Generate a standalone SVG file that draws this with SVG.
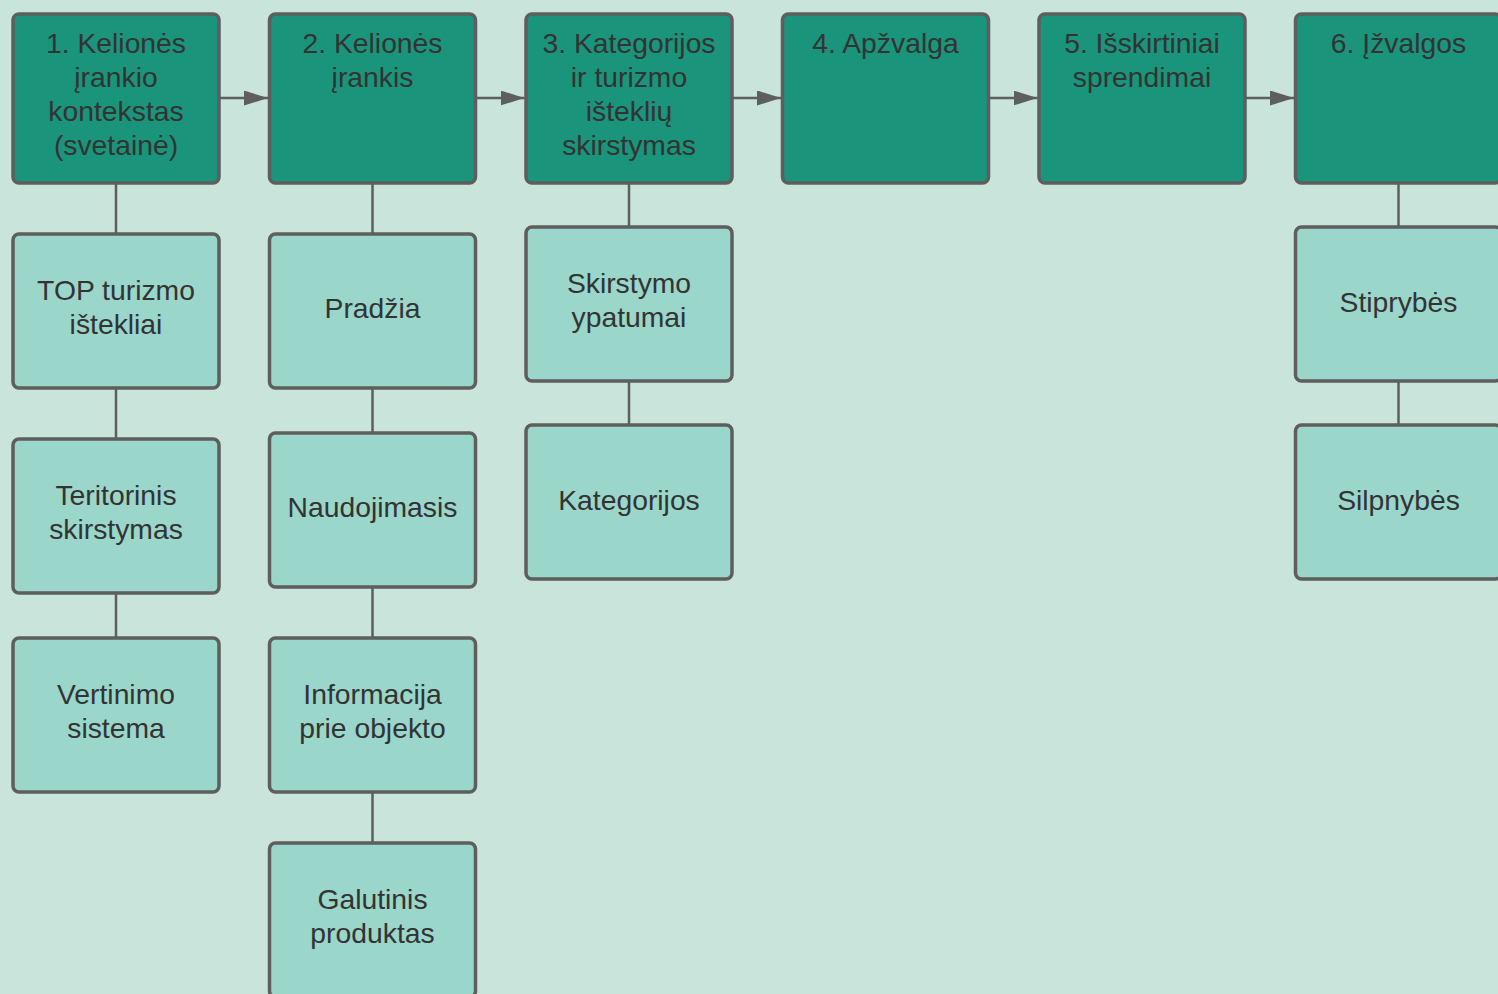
<svg xmlns="http://www.w3.org/2000/svg" width="1498" height="994" viewBox="0 0 1498 994">
<defs>
<style>
.main{fill:#1a947a;stroke:#5e5e5e;stroke-width:3.5}
.sub{fill:#9ad6ca;stroke:#5e5e5e;stroke-width:3.5}
.t{font-family:"Liberation Sans",Arial,sans-serif;font-size:28.3px;fill:#333333;text-anchor:middle}
.c{stroke:#5e5e5e;stroke-width:2.5;fill:none}
</style>
<marker id="ah" viewBox="0 0 24 15" refX="24" refY="7.5" markerWidth="24" markerHeight="15" markerUnits="userSpaceOnUse" orient="auto">
<path d="M0,0 L24,7.5 L0,15 Z" fill="#5e5e5e"/>
</marker>
</defs>
<rect x="0" y="0" width="1498" height="994" fill="#c9e4da"/>
<g id="connectors">
<line class="c" x1="219" y1="98" x2="268" y2="98" marker-end="url(#ah)"/>
<line class="c" x1="475.5" y1="98" x2="524.5" y2="98" marker-end="url(#ah)"/>
<line class="c" x1="732" y1="98" x2="781" y2="98" marker-end="url(#ah)"/>
<line class="c" x1="988.5" y1="98" x2="1037.5" y2="98" marker-end="url(#ah)"/>
<line class="c" x1="1245" y1="98" x2="1294" y2="98" marker-end="url(#ah)"/>
<line class="c" x1="116" y1="183" x2="116" y2="234"/>
<line class="c" x1="116" y1="388" x2="116" y2="439"/>
<line class="c" x1="116" y1="593" x2="116" y2="638"/>
<line class="c" x1="372.5" y1="183" x2="372.5" y2="234"/>
<line class="c" x1="372.5" y1="388" x2="372.5" y2="433"/>
<line class="c" x1="372.5" y1="587" x2="372.5" y2="638"/>
<line class="c" x1="372.5" y1="792" x2="372.5" y2="843"/>
<line class="c" x1="629" y1="183" x2="629" y2="227"/>
<line class="c" x1="629" y1="381" x2="629" y2="425"/>
<line class="c" x1="1398.5" y1="183" x2="1398.5" y2="227"/>
<line class="c" x1="1398.5" y1="381" x2="1398.5" y2="425"/>
</g>
<g id="n1"><rect class="main" x="13" y="14" width="206" height="169" rx="6"/>
<text class="t" x="116" y="53">1. Kelionės</text><text class="t" x="116" y="87">įrankio</text><text class="t" x="116" y="121">kontekstas</text><text class="t" x="116" y="155">(svetainė)</text></g>
<g id="n2"><rect class="main" x="269.5" y="14" width="206" height="169" rx="6"/>
<text class="t" x="372.5" y="53">2. Kelionės</text><text class="t" x="372.5" y="87">įrankis</text></g>
<g id="n3"><rect class="main" x="526" y="14" width="206" height="169" rx="6"/>
<text class="t" x="629" y="53">3. Kategorijos</text><text class="t" x="629" y="87">ir turizmo</text><text class="t" x="629" y="121">išteklių</text><text class="t" x="629" y="155">skirstymas</text></g>
<g id="n4"><rect class="main" x="782.5" y="14" width="206" height="169" rx="6"/>
<text class="t" x="885.5" y="53">4. Apžvalga</text></g>
<g id="n5"><rect class="main" x="1039" y="14" width="206" height="169" rx="6"/>
<text class="t" x="1142" y="53">5. Išskirtiniai</text><text class="t" x="1142" y="87">sprendimai</text></g>
<g id="n6"><rect class="main" x="1295.5" y="14" width="206" height="169" rx="6"/>
<text class="t" x="1398.5" y="53">6. Įžvalgos</text></g>
<g id="c1a"><rect class="sub" x="13" y="234" width="206" height="154" rx="6"/>
<text class="t" x="116" y="300">TOP turizmo</text><text class="t" x="116" y="334">ištekliai</text></g>
<g id="c1b"><rect class="sub" x="13" y="439" width="206" height="154" rx="6"/>
<text class="t" x="116" y="505">Teritorinis</text><text class="t" x="116" y="539">skirstymas</text></g>
<g id="c1c"><rect class="sub" x="13" y="638" width="206" height="154" rx="6"/>
<text class="t" x="116" y="704">Vertinimo</text><text class="t" x="116" y="738">sistema</text></g>
<g id="c2a"><rect class="sub" x="269.5" y="234" width="206" height="154" rx="6"/>
<text class="t" x="372.5" y="318">Pradžia</text></g>
<g id="c2b"><rect class="sub" x="269.5" y="433" width="206" height="154" rx="6"/>
<text class="t" x="372.5" y="517">Naudojimasis</text></g>
<g id="c2c"><rect class="sub" x="269.5" y="638" width="206" height="154" rx="6"/>
<text class="t" x="372.5" y="704">Informacija</text><text class="t" x="372.5" y="738">prie objekto</text></g>
<g id="c2d"><rect class="sub" x="269.5" y="843" width="206" height="154" rx="6"/>
<text class="t" x="372.5" y="909">Galutinis</text><text class="t" x="372.5" y="943">produktas</text></g>
<g id="c3a"><rect class="sub" x="526" y="227" width="206" height="154" rx="6"/>
<text class="t" x="629" y="293">Skirstymo</text><text class="t" x="629" y="327">ypatumai</text></g>
<g id="c3b"><rect class="sub" x="526" y="425" width="206" height="154" rx="6"/>
<text class="t" x="629" y="510">Kategorijos</text></g>
<g id="c6a"><rect class="sub" x="1295.5" y="227" width="206" height="154" rx="6"/>
<text class="t" x="1398.5" y="312">Stiprybės</text></g>
<g id="c6b"><rect class="sub" x="1295.5" y="425" width="206" height="154" rx="6"/>
<text class="t" x="1398.5" y="510">Silpnybės</text></g>
</svg>
